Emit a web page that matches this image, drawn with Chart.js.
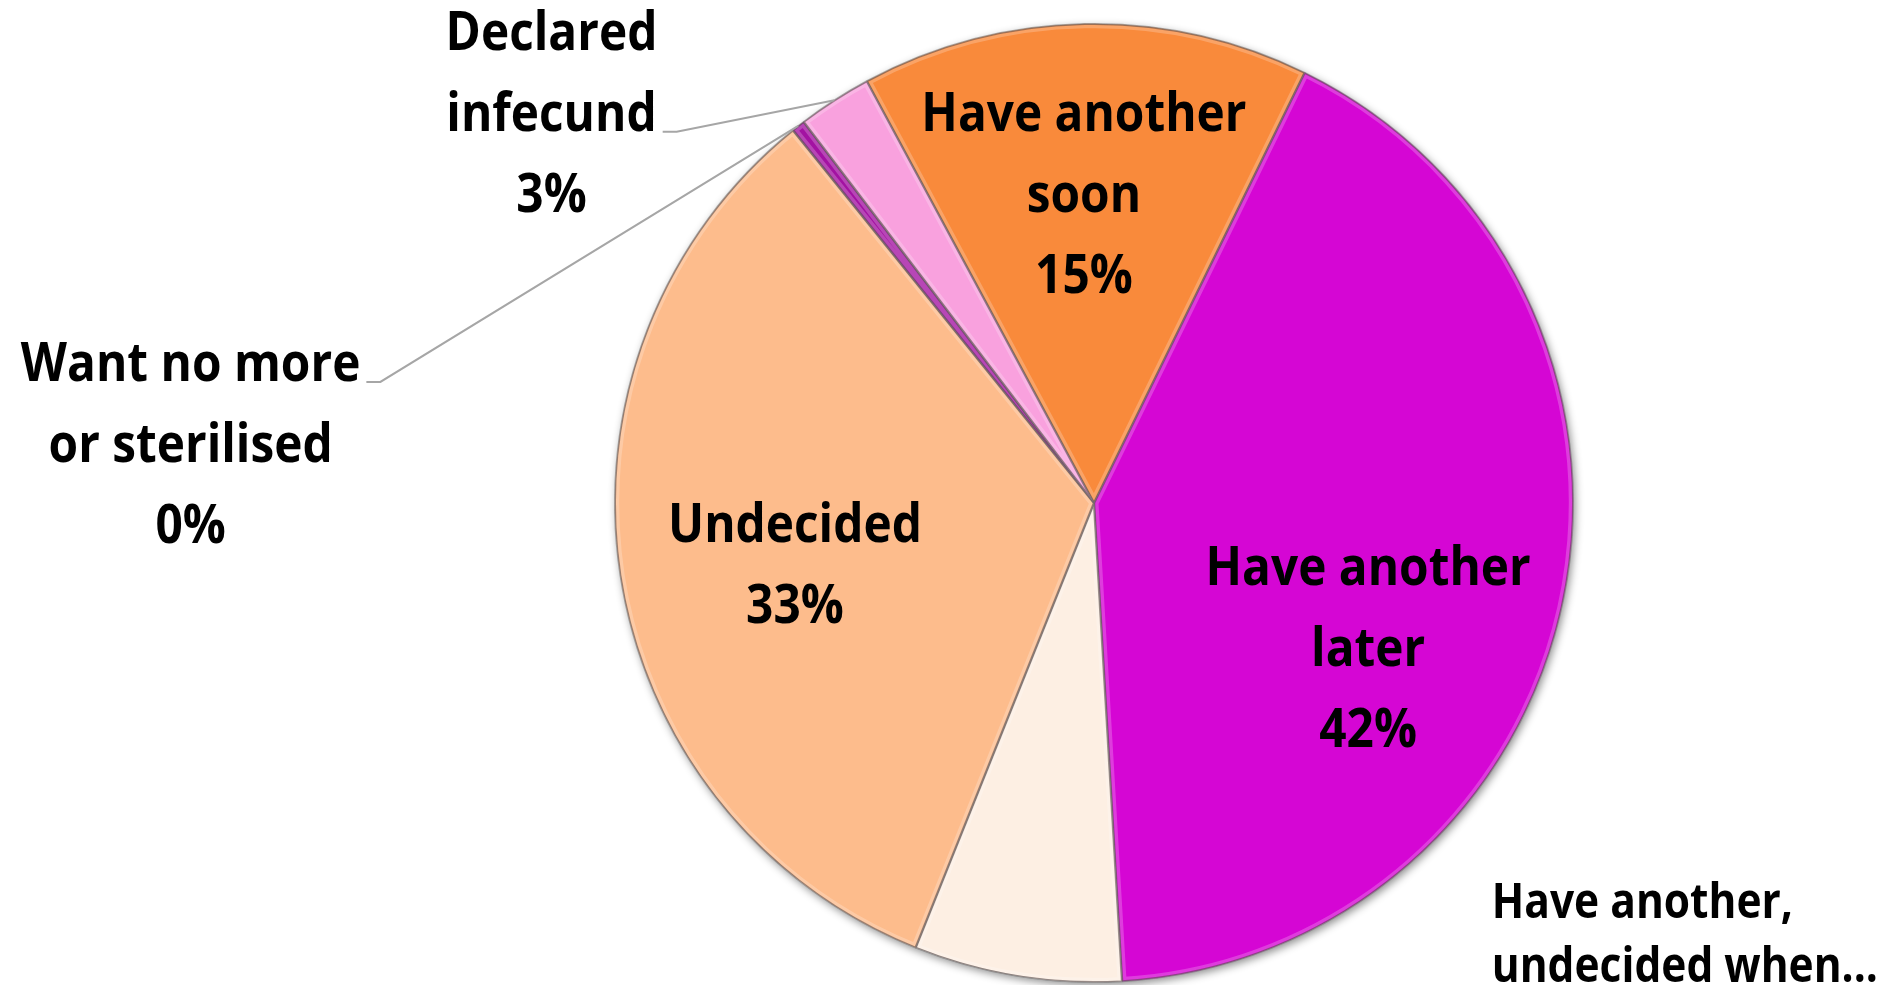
<!DOCTYPE html>
<html>
<head>
<meta charset="utf-8">
<script src="https://cdn.jsdelivr.net/npm/chart.js@4.4.1/dist/chart.umd.min.js"></script>
<style>
  html, body { margin: 0; padding: 0; background: #fff; }
  #wrap { width: 1903px; height: 985px; position: relative; }
</style>
</head>
<body>
<div id="wrap"><canvas id="chart-intentions"></canvas></div>
<script>
const categories = [
  'Have another soon',
  'Have another later',
  'Have another, undecided when',
  'Undecided',
  'Want no more or sterilised',
  'Declared infecund'
];
const shares = [15.1, 41.8, 7.0, 33.1, 0.45, 2.5];
const labelLines = [
  ['Have another', 'soon'],
  ['Have another', 'later'],
  ['Have another,', 'undecided when...'],
  ['Undecided'],
  ['Want no more', 'or sterilised'],
  ['Declared', 'infecund']
];
const showPercent = [true, true, false, true, true, true];

const colors = ['#F98A3B', '#D506D4', '#FDEFE3', '#FDBC8C', '#A312A2', '#F9A1DE'];

// where each label block sits, relative to the pie centre, in radius units
const placement = [
  { fx: -0.021, fy: -0.639, align: 'center' },
  { fx: 0.572, fy: 0.307, align: 'center' },
  { fx: 0.83, fy: 0.904, align: 'left', size: 48, lh: 64 },
  { fx: -0.624, fy: 0.134, align: 'center' },
  { fx: -1.885, fy: -0.117, align: 'center', leader: true },
  { fx: -1.132, fy: -0.808, align: 'center', leader: true }
];

const total = shares.reduce((a, b) => a + b, 0);
const squeeze = 0.885; // police un peu condensée

// ombre portée + relief léger
const pieShadow = {
  id: 'pieShadow',
  beforeDatasetsDraw(chart) {
    const arc = chart.getDatasetMeta(0).data[0];
    const ctx = chart.ctx;
    ctx.save();
    ctx.beginPath();
    ctx.arc(arc.x, arc.y, arc.outerRadius, 0, Math.PI * 2);
    ctx.shadowColor = 'rgba(0,0,0,0.45)';
    ctx.shadowBlur = 9;
    ctx.shadowOffsetX = 2;
    ctx.shadowOffsetY = 3;
    ctx.fillStyle = '#fff';
    ctx.fill();
    ctx.restore();
  },
  afterDatasetsDraw(chart) {
    const ctx = chart.ctx;
    chart.getDatasetMeta(0).data.forEach(arc => {
      ctx.save();
      ctx.beginPath();
      ctx.moveTo(arc.x, arc.y);
      ctx.arc(arc.x, arc.y, arc.outerRadius, arc.startAngle, arc.endAngle);
      ctx.closePath();
      ctx.clip();
      ctx.lineJoin = 'round';
      ctx.lineWidth = 9;
      ctx.strokeStyle = 'rgba(255,255,255,0.22)';
      ctx.stroke();
      ctx.lineWidth = 2.5;
      ctx.strokeStyle = 'rgba(60,40,40,0.4)';
      ctx.stroke();
      ctx.restore();
    });
  }
};

const sliceLabels = {
  id: 'sliceLabels',
  afterDraw(chart) {
    const ctx = chart.ctx;
    const arcs = chart.getDatasetMeta(0).data;
    arcs.forEach((arc, i) => {
      const p = placement[i];
      const r = arc.outerRadius;
      const cx = arc.x + p.fx * r;
      const cy = arc.y + p.fy * r;
      const size = p.size || 54;
      const lh = p.lh || 81;
      const lines = labelLines[i].slice();
      if (showPercent[i]) lines.push(Math.round(shares[i] / total * 100) + '%');
      ctx.save();
      ctx.font = 'bold ' + size + 'px "Open Sans", "Noto Sans", sans-serif';
      ctx.fillStyle = '#000';
      ctx.textAlign = p.align;
      ctx.textBaseline = 'middle';
      const top = cy - (lines.length - 1) * lh / 2;
      lines.forEach((t, k) => {
        ctx.save();
        ctx.translate(cx, top + k * lh);
        ctx.scale(squeeze, 1);
        ctx.fillText(t, 0, 0);
        ctx.restore();
      });

      if (p.leader) {
        // ligne de rappel vers le bord de la part
        const mid = (arc.startAngle + arc.endAngle) / 2;
        const ex = arc.x + Math.cos(mid) * r;
        const ey = arc.y + Math.sin(mid) * r;
        const row = i === 5 ? 1 : 0;
        const sx = cx + ctx.measureText(lines[row]).width * squeeze / 2 + 6;
        const sy = top + row * lh + 16;
        ctx.beginPath();
        ctx.moveTo(sx, sy);
        ctx.lineTo(sx + 14, sy);
        ctx.lineTo(ex, ey);
        ctx.strokeStyle = '#A6A6A6';
        ctx.lineWidth = 2;
        ctx.stroke();
      }
      ctx.restore();
    });
  }
};

new Chart(document.getElementById('chart-intentions'), {
  type: 'pie',
  data: {
    labels: categories,
    datasets: [{
      data: shares,
      backgroundColor: colors,
      borderColor: 'rgba(110,110,110,0.55)',
      borderWidth: 1.5,
      hoverBorderWidth: 1.5,
      hoverOffset: 0
    }]
  },
  options: {
    responsive: true,
    maintainAspectRatio: false,
    animation: false,
    rotation: -28.3,
    layout: { padding: { top: 23, bottom: 2, left: 400, right: 115 } },
    plugins: {
      legend: { display: false },
      tooltip: { enabled: false }
    }
  },
  plugins: [pieShadow, sliceLabels]
});
</script>
</body>
</html>
